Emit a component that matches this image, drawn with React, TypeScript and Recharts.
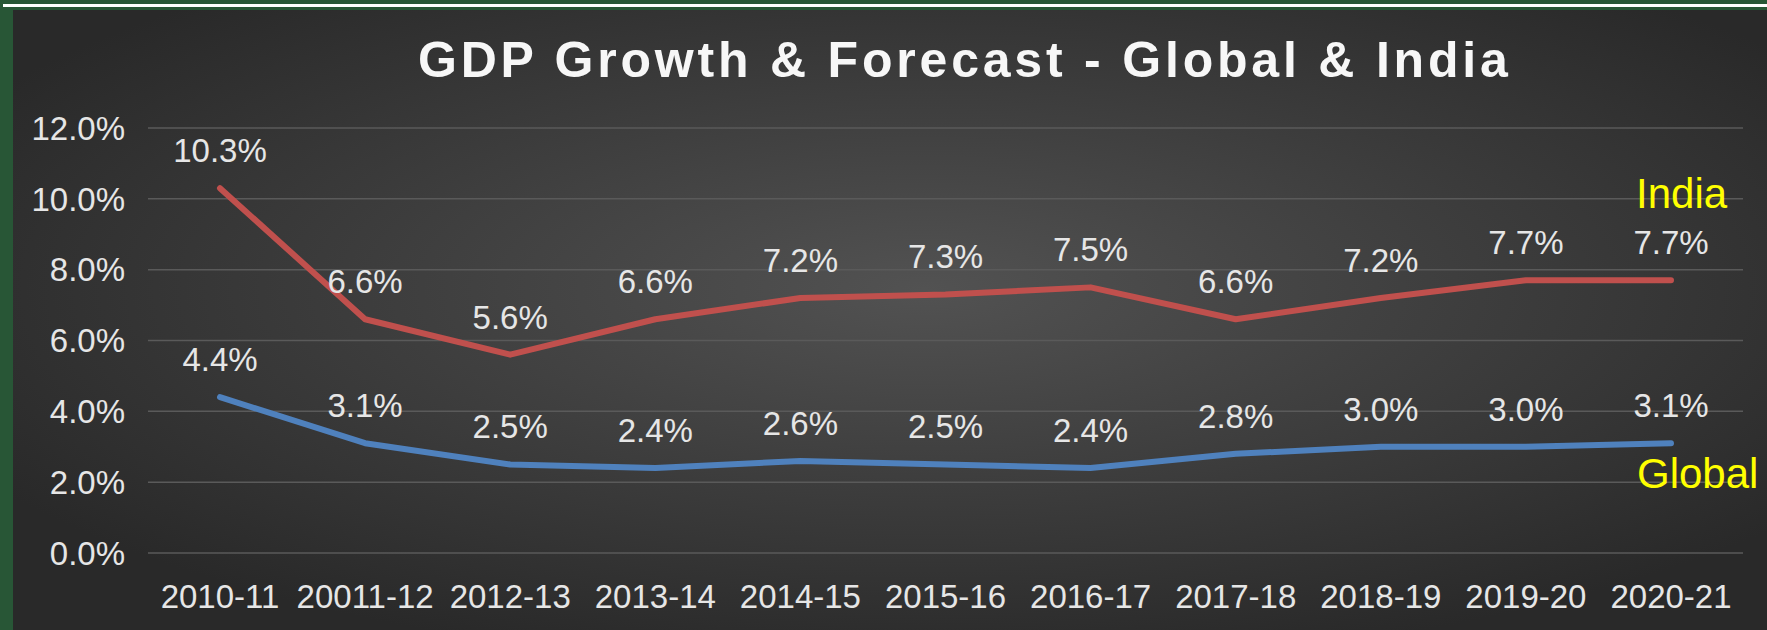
import React from 'react';
import { LineChart, Line, XAxis, YAxis, CartesianGrid, LabelList } from 'recharts';

// fiscal years as printed on the slide (typo "20011-12" kept as in source)
const years = [
  '2010-11', '20011-12', '2012-13', '2013-14', '2014-15', '2015-16',
  '2016-17', '2017-18', '2018-19', '2019-20', '2020-21',
];
const indiaGrowth = [10.3, 6.6, 5.6, 6.6, 7.2, 7.3, 7.5, 6.6, 7.2, 7.7, 7.7];
const globalGrowth = [4.4, 3.1, 2.5, 2.4, 2.6, 2.5, 2.4, 2.8, 3.0, 3.0, 3.1];
const yTicks = [0, 2, 4, 6, 8, 10, 12];

const data = years.map((year, i) => ({
  year,
  india: indiaGrowth[i],
  global: globalGrowth[i],
}));

const W = 1767;
const H = 630;
const FONT = '"Liberation Sans", Arial, sans-serif';
const pct = (v: any) => `${Number(v).toFixed(1)}%`;

const Background = () => (
  <svg width={W} height={H} style={{ position: 'absolute', left: 0, top: 0 }}>
    <defs>
      <radialGradient id="panelGrad" cx="52%" cy="45%" r="62%">
        <stop offset="0%" stopColor="#525252" />
        <stop offset="100%" stopColor="#292929" />
      </radialGradient>
    </defs>
    <rect x={0} y={0} width={W} height={H} fill="#285636" />
    <rect x={3} y={4} width={W} height={3} fill="#ffffff" />
    <rect x={13} y={10} width={W - 13} height={H - 10} fill="url(#panelGrad)" />
  </svg>
);

const Overlay = () => (
  <svg width={W} height={H} style={{ position: 'absolute', left: 0, top: 0, pointerEvents: 'none' }}>
    <text
      x={418}
      y={77}
      fill="#f7f7f7"
      fontFamily={FONT}
      fontWeight="bold"
      fontSize={50}
      letterSpacing={3.8}
    >
      GDP Growth &amp; Forecast - Global &amp; India
    </text>
    <text x={1636} y={208} fill="#ffff00" fontFamily={FONT} fontSize={42}>
      India
    </text>
    <text x={1637} y={488} fill="#ffff00" fontFamily={FONT} fontSize={42}>
      Global
    </text>
  </svg>
);

export default function App() {
  return (
    <div style={{ position: 'absolute', left: 0, top: 0, width: W, height: H, overflow: 'hidden' }}>
      <Background />
      <div style={{ position: 'absolute', left: 0, top: 0 }}>
        <LineChart
          width={W}
          height={H}
          data={data}
          margin={{ top: 128, right: 24, bottom: 17, left: 48 }}
        >
          <CartesianGrid vertical={false} stroke="#5a5a5a" strokeWidth={1.5} />
          <XAxis
            dataKey="year"
            height={60}
            axisLine={false}
            tickLine={false}
            tickSize={0}
            tickMargin={32}
            padding={{ left: 72, right: 72 }}
            interval={0}
            tick={{ fill: '#e6e6e6', fontSize: 33, fontFamily: FONT }}
          />
          <YAxis
            width={100}
            type="number"
            domain={[0, 12]}
            ticks={yTicks}
            axisLine={false}
            tickLine={false}
            tickSize={0}
            tickMargin={23}
            tickFormatter={pct}
            tick={{ fill: '#e6e6e6', fontSize: 33, fontFamily: FONT }}
          />
          <Line
            type="linear"
            dataKey="india"
            stroke="#c0504d"
            strokeWidth={6}
            strokeLinecap="round"
            strokeLinejoin="round"
            dot={false}
            isAnimationActive={false}
          >
            <LabelList
              dataKey="india"
              position="top"
              offset={26}
              formatter={pct}
              fill="#e6e6e6"
              fontSize={33}
              fontFamily={FONT}
            />
          </Line>
          <Line
            type="linear"
            dataKey="global"
            stroke="#4f81bd"
            strokeWidth={6}
            strokeLinecap="round"
            strokeLinejoin="round"
            dot={false}
            isAnimationActive={false}
          >
            <LabelList
              dataKey="global"
              position="top"
              offset={26}
              formatter={pct}
              fill="#e6e6e6"
              fontSize={33}
              fontFamily={FONT}
            />
          </Line>
        </LineChart>
      </div>
      <Overlay />
    </div>
  );
}
